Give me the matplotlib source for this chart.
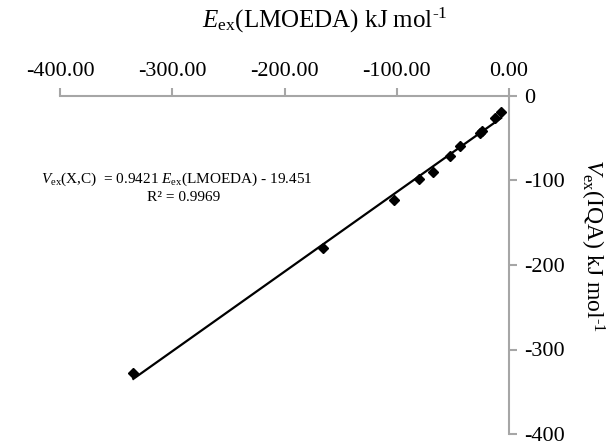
import numpy as np
import matplotlib.pyplot as plt
from matplotlib.ticker import FormatStrFormatter

plt.rcParams['font.family'] = 'Liberation Serif'
plt.rcParams['mathtext.fontset'] = 'custom'
plt.rcParams['mathtext.rm'] = 'Liberation Serif'
plt.rcParams['mathtext.it'] = 'Liberation Serif:italic'
plt.rcParams['axes.unicode_minus'] = False

# E_ex(LMOEDA) vs V_ex(IQA), kJ/mol
e_lmoeda = [-334.7, -165.4, -102.2, -80.2, -67.4, -52.6, -43.7, -25.8, -24.3, -12.5, -7.1]
v_iqa = [-328.2, -180.2, -123.1, -98.6, -89.6, -71.0, -58.8, -43.4, -41.1, -26.4, -19.3]

# trendline reported on the chart
slope, intercept = 0.9421, -19.451
r2 = 0.9969

grey = '#A6A6A6'
W, H = 615, 441

fig = plt.figure(figsize=(6.15, 4.41), dpi=100)
ax = fig.add_axes((60 / W, 1 - 434 / H, 449 / W, 338 / H))

xl = np.array([min(e_lmoeda), max(e_lmoeda)])
ax.plot(xl, slope * xl + intercept, color='black', lw=1.6, zorder=2)
ax.plot(e_lmoeda, v_iqa, 'D', color='black', ms=5.5, zorder=3)

ax.set_xlim(-400, 0)
ax.set_ylim(-400, 0)
ax.set_xticks([-400, -300, -200, -100, 0])
ax.set_yticks([-400, -300, -200, -100, 0])
ax.xaxis.set_major_formatter(FormatStrFormatter('%.2f'))

for s in ['left', 'bottom']:
    ax.spines[s].set_visible(False)
for s in ['top', 'right']:
    ax.spines[s].set_color(grey)
    ax.spines[s].set_linewidth(1.5)

ax.xaxis.tick_top()
ax.yaxis.tick_right()
ax.tick_params(axis='both', direction='out', length=6, width=1.5, color=grey,
               labelsize=16, pad=5)

sup = r'$^{\mathrm{‐1}}$'
fig.text(325 / W, 1 - 20 / H, r'$E_{\mathrm{ex}}$(LMOEDA) kJ mol' + sup,
         fontsize=18, ha='center', va='center')
fig.text(592 / W, 1 - 245 / H, r'$V_{\mathrm{ex}}$(IQA) kJ mol' + sup,
         fontsize=17, ha='center', va='center', rotation=-90)

ax.text(-175, -99, r'$V_{\mathrm{ex}}$(X,C)  = 0.9421 $E_{\mathrm{ex}}$(LMOEDA) - 19.451',
        fontsize=11, ha='right', va='center')
ax.text(-290, -120, 'R² = %.4f' % r2, fontsize=11, ha='center', va='center')

fig.savefig('out.png', dpi=100)
